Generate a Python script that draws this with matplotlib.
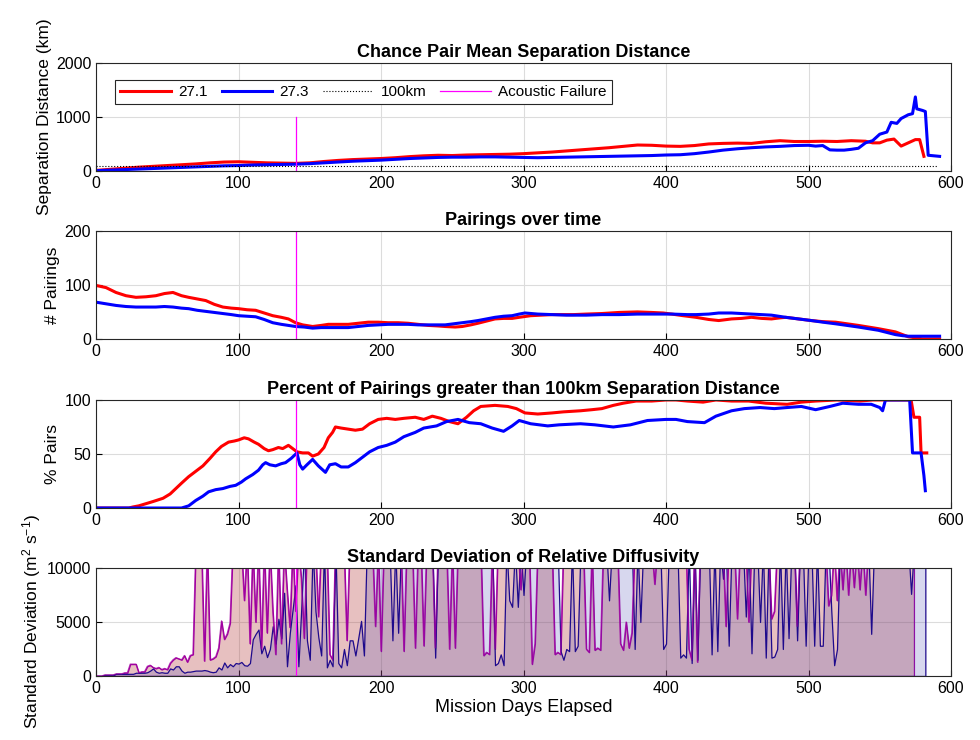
import numpy as np
import matplotlib
matplotlib.use("Agg")
import matplotlib.pyplot as plt

plt.rcParams['font.family'] = ['Liberation Sans', 'DejaVu Sans']
plt.rcParams['mathtext.default'] = 'regular'

# --- Chance pair mean separation distance (km) ---
sep_271_days = [0, 10, 20, 30, 40, 50, 60, 70, 80, 90, 100, 110, 120, 130, 140, 150, 160, 170, 180, 190,
                200, 210, 220, 230, 240, 250, 260, 270, 280, 290, 300, 310, 320, 330, 340, 350, 360, 370,
                380, 390, 400, 410, 420, 430, 440, 450, 460, 470, 480, 490, 500, 510, 520, 530, 540, 545,
                550, 555, 560, 565, 570, 575, 578, 581]
sep_271 = [10, 30, 50, 70, 85, 100, 115, 130, 150, 165, 170, 160, 150, 145, 140, 150, 175, 195, 210, 220,
           230, 245, 265, 280, 290, 285, 295, 300, 305, 310, 320, 335, 350, 370, 390, 410, 430, 455,
           480, 475, 460, 455, 470, 500, 510, 515, 510, 540, 560, 545, 545, 550, 545, 560, 550, 520,
           520, 570, 590, 460, 520, 580, 580, 270]

sep_273_days = [0, 10, 20, 30, 40, 50, 60, 70, 80, 90, 100, 110, 120, 130, 140, 150, 160, 170, 180, 190,
                200, 210, 220, 230, 240, 250, 260, 270, 280, 290, 300, 310, 320, 330, 340, 350, 360, 370,
                380, 390, 400, 410, 420, 430, 440, 450, 460, 470, 480, 490, 500, 505, 510, 515, 520, 525,
                530, 535, 540, 545, 550, 555, 558, 562, 565, 570, 573, 575, 576, 580, 582, 584, 588, 592]
sep_273 = [5, 15, 25, 35, 45, 55, 65, 75, 85, 95, 100, 110, 115, 120, 125, 135, 150, 165, 180, 190,
           200, 215, 230, 240, 250, 255, 255, 260, 260, 255, 250, 245, 250, 255, 260, 265, 270, 275,
           280, 285, 295, 300, 320, 350, 385, 410, 430, 445, 455, 470, 475, 460, 470, 390, 385, 385,
           400, 420, 520, 560, 680, 720, 900, 880, 970, 1040, 1060, 1370, 1150, 1120, 1100, 290, 280, 270]

# --- Pairings over time ---
pair_271_days = [0, 7, 14, 21, 28, 35, 42, 48, 54, 60, 65, 71, 77, 83, 89, 95, 100, 106, 112, 118, 124,
                 130, 135, 140, 145, 152, 158, 163, 170, 177, 184, 191, 198, 205, 212, 219, 226, 233,
                 240, 245, 252, 257, 263, 268, 274, 280, 286, 292, 297, 305, 320, 335, 344, 355, 367,
                 380, 390, 398, 404, 412, 421, 430, 437, 446, 453, 460, 467, 474, 480, 484, 493, 502,
                 510, 519, 527, 535, 542, 549, 555, 561, 566, 570, 575, 580, 586, 592]
pair_271 = [99, 95, 86, 80, 77, 78, 80, 84, 86, 80, 77, 74, 71, 64, 59, 57, 56, 54, 53, 48, 43,
            40, 37, 30, 26, 23, 25, 27, 27, 27, 29, 31, 31, 30, 30, 29, 27, 25,
            24, 23, 22, 23, 26, 29, 33, 37, 38, 38, 40, 43, 45, 45, 46, 47, 49,
            50, 49, 48, 46, 43, 40, 36, 34, 37, 38, 40, 38, 37, 39, 40, 37, 34,
            32, 31, 28, 25, 22, 19, 16, 13, 8, 4, 2, 0, 0, 0]

pair_273_days = [0, 7, 14, 21, 28, 35, 42, 48, 54, 60, 65, 71, 77, 83, 89, 95, 100, 106, 112, 118, 124,
                 130, 135, 140, 146, 152, 158, 163, 170, 177, 184, 191, 198, 205, 212, 219, 226, 233,
                 240, 245, 251, 257, 263, 268, 274, 280, 286, 292, 297, 301, 310, 320, 330, 344, 355,
                 367, 380, 390, 404, 415, 421, 430, 437, 446, 453, 460, 467, 474, 484, 493, 502, 510,
                 519, 527, 535, 542, 549, 555, 561, 566, 570, 580, 592]
pair_273 = [68, 65, 62, 60, 59, 59, 59, 60, 59, 57, 56, 53, 51, 49, 47, 45, 43, 42, 41, 36, 30,
            27, 25, 23, 22, 20, 21, 21, 21, 21, 23, 25, 26, 27, 27, 27, 26, 26,
            26, 26, 28, 30, 32, 34, 37, 40, 42, 43, 46, 48, 46, 45, 44, 44, 45,
            45, 46, 46, 46, 45, 45, 46, 48, 48, 47, 46, 45, 44, 40, 37, 34, 31,
            28, 25, 22, 19, 16, 12, 8, 6, 5, 5, 5]

# --- Percent of pairings > 100 km ---
pct_271_days = [0, 20, 23, 26, 30, 35, 40, 47, 52, 56, 60, 65, 70, 75, 80, 84, 88, 93, 97, 100, 104,
                107, 111, 114, 118, 121, 124, 128, 131, 135, 138, 141, 145, 149, 152, 156, 160, 163,
                166, 168, 172, 177, 182, 187, 192, 198, 204, 210, 216, 224, 230, 236, 242, 248, 254,
                260, 265, 270, 280, 289, 295, 301, 310, 320, 328, 340, 348, 355, 363, 370, 379, 390,
                400, 407, 415, 426, 435, 446, 458, 470, 485, 495, 505, 520, 536, 545, 560, 572, 574,
                578, 579, 583]
pct_271 = [0, 0, 0, 1, 2, 4, 6, 9, 13, 18, 23, 29, 34, 39, 46, 52, 57, 61, 62, 63, 65,
           64, 61, 59, 55, 53, 54, 56, 55, 58, 55, 52, 51, 51, 48, 50, 56, 65,
           70, 75, 74, 73, 72, 73, 78, 82, 83, 82, 83, 84, 82, 85, 83, 80, 78,
           84, 90, 94, 95, 94, 92, 88, 87, 88, 89, 90, 91, 92, 95, 97, 99, 99,
           100, 100, 99, 98, 100, 99, 99, 97, 96, 98, 99, 100, 99, 100, 100, 100, 84,
           84, 51, 51]

pct_273_days = [0, 42, 50, 60, 65, 70, 75, 79, 84, 89, 94, 98, 102, 105, 110, 114, 117, 119, 122, 126,
                130, 133, 137, 141, 143, 145, 148, 152, 156, 161, 164, 168, 172, 177, 182, 187, 192,
                198, 204, 210, 216, 224, 230, 239, 246, 254, 262, 270, 278, 286, 292, 297, 305, 317,
                325, 340, 350, 363, 375, 387, 400, 407, 415, 427, 435, 446, 455, 466, 476, 485, 495,
                505, 515, 524, 535, 544, 550, 552, 554, 571, 573, 579, 581, 582]
pct_273 = [0, 0, 0, 0, 2, 7, 11, 15, 17, 18, 20, 21, 24, 27, 31, 35, 40, 42, 40, 39,
           41, 42, 46, 51, 40, 36, 40, 45, 39, 33, 40, 41, 38, 38, 42, 47, 52,
           56, 58, 61, 66, 70, 74, 76, 80, 82, 79, 78, 74, 71, 76, 81, 78, 76,
           77, 78, 77, 75, 77, 81, 82, 82, 80, 79, 85, 90, 92, 93, 92, 93, 94,
           91, 94, 97, 96, 96, 93, 90, 100, 100, 51, 51, 30, 16]

# --- Std of relative diffusivity, thousands of m^2/s, every 2 days (12 = off the top) ---
sd_271_days = np.arange(0, 576, 2)
sd_271_k = [
    0, 0, 0, 0.1, 0.1, 0.1, 0.1, 0.2, 0.2, 0.2,
    0.3, 0.3, 1.1, 1.1, 1.1, 0.3, 0.4, 0.4, 0.9, 1.0,
    0.8, 0.7, 0.8, 0.6, 0.7, 0.6, 1.2, 1.5, 1.7, 1.6,
    1.5, 1.9, 1.3, 1.9, 2.0, 12, 12, 12, 1.4, 12,
    1.5, 1.6, 1.8, 2.6, 5.1, 3.4, 3.9, 4.9, 12, 12,
    12, 12, 7, 12, 3, 12, 5, 12, 2.5, 12,
    4, 12, 6, 2, 12, 3, 12, 8, 4.5, 12,
    6, 12, 9, 3.5, 12, 12, 12, 12, 5.5, 12,
    12, 12, 2, 1.5, 12, 12, 12, 12, 3.3, 12,
    12, 12, 12, 12, 12, 12, 12, 12, 4.6, 12,
    2.3, 12, 12, 12, 12, 12, 12, 12, 2.3, 12,
    12, 12, 2.6, 12, 12, 2.8, 12, 12, 12, 2.6,
    12, 12, 12, 12, 2.5, 12, 2.6, 12, 12, 12,
    12, 12, 12, 12, 12, 12, 1.9, 2.2, 2, 12,
    2.5, 12, 12, 12, 12, 12, 12, 12, 12, 8,
    12, 12, 12, 1.1, 3, 12, 12, 12, 12, 12,
    12, 2, 2.2, 2, 12, 12, 12, 12, 12, 12,
    12, 12, 2.5, 2.2, 12, 2.4, 2.6, 2.4, 12, 12,
    12, 12, 12, 12, 3, 2.4, 5, 2.6, 4, 12,
    12, 12, 12, 12, 12, 12, 8.5, 12, 12, 12,
    12, 12, 12, 12, 12, 12, 12, 12, 2.5, 1.5,
    12, 1.3, 12, 12, 12, 12, 12, 12, 12, 12,
    12, 4.6, 12, 12, 12, 5.3, 12, 12, 12, 5,
    12, 12, 12, 12, 12, 12, 12, 5.3, 6, 12,
    12, 12, 12, 12, 12, 12, 4.6, 12, 12, 12,
    12, 12, 12, 12, 12, 12, 12, 6.5, 7.5, 12,
    7, 12, 8, 12, 7.5, 12, 8.2, 12, 8, 12,
    7.5, 12, 12, 12, 12, 12, 12, 12, 12, 12,
    12, 12, 12, 12, 12, 12, 12, 12]

sd_273_days = np.arange(0, 584, 2)
sd_273_k = [
    0, 0, 0, 0.1, 0.1, 0.1, 0.1, 0.2, 0.2, 0.2,
    0.2, 0.2, 0.2, 0.2, 0.3, 0.3, 0.3, 0.3, 0.35, 0.5,
    0.7, 0.4, 0.3, 0.35, 0.3, 0.3, 0.7, 0.6, 0.9, 0.9,
    0.5, 0.3, 0.4, 0.4, 0.45, 0.5, 0.5, 0.5, 0.55, 0.5,
    0.4, 0.35, 0.4, 0.8, 0.6, 1.25, 0.8, 1.1, 0.9, 1.2,
    1.15, 1.3, 1.0, 0.95, 1.2, 3.4, 3.9, 4.3, 2.1, 2.8,
    1.75, 2.5, 4.6, 3.0, 5.3, 3.5, 7.7, 0.9, 4, 6.2,
    8.4, 0.9, 6.2, 12, 3.3, 1.5, 12, 6, 3.6, 1.9,
    12, 0.8, 1.5, 0.9, 12, 1.2, 0.8, 2.5, 1.0, 3.3,
    3.3, 1.9, 3.5, 5.1, 1.9, 12, 12, 12, 12, 12,
    12, 12, 12, 12, 3.3, 12, 4, 12, 12, 12,
    12, 12, 12, 12, 12, 12, 12, 12, 12, 1.7,
    12, 12, 12, 12, 12, 12, 12, 12, 12, 12,
    12, 12, 12, 12, 12, 12, 12, 12, 12, 12,
    1.0, 1.2, 2, 1.0, 12, 7, 6.4, 12, 6.4, 12,
    7.5, 12, 12, 12, 12, 12, 12, 12, 12, 12,
    12, 12, 12, 2.3, 1.5, 2.5, 2.3, 12, 2.3, 2.8,
    12, 12, 12, 12, 12, 12, 12, 12, 12, 12,
    7, 12, 12, 12, 12, 12, 12, 12, 12, 2.5,
    12, 5, 12, 12, 12, 12, 12, 12, 12, 2.5,
    3, 12, 12, 12, 12, 1.7, 2, 1.7, 12, 1.2,
    12, 1.5, 12, 12, 12, 12, 2.0, 12, 2.3, 12,
    9, 12, 2.8, 12, 12, 12, 12, 12, 5.5, 12,
    2.1, 12, 12, 5, 12, 1.7, 12, 1.7, 1.8, 2.5,
    12, 2.5, 12, 3.5, 12, 12, 3.3, 12, 12, 2.8,
    12, 12, 2.8, 12, 2.8, 2.8, 12, 12, 6, 1.0,
    2.5, 12, 12, 12, 12, 12, 12, 12, 12, 12,
    12, 12, 3.9, 12, 12, 12, 12, 12, 12, 12,
    12, 12, 12, 12, 12, 12, 7.6, 12, 12, 12,
    12, 12]

failure_day = 140
threshold_km = 100

RED = '#ff0000'
BLUE = '#0000ff'
MAG = '#ff00ff'
EDGE_271 = '#a000a0'
EDGE_273 = '#1e0a8c'

fig = plt.figure(figsize=(9.8, 7.4), dpi=100)
left, width, h = 0.098, 0.8724, 0.146
bottoms = [0.769, 0.542, 0.3135, 0.0865]
axs = [fig.add_axes([left, b, width, h]) for b in bottoms]


def style(ax, yticks, title, ylabel):
    ax.set_xlim(0, 600)
    ax.set_xticks(range(0, 601, 100))
    ax.set_ylim(yticks[0], yticks[-1])
    ax.set_yticks(yticks)
    ax.grid(True, color='#dcdcdc', lw=0.8)
    ax.set_axisbelow(True)
    ax.tick_params(direction='in', labelsize=11.5, length=4, top=False, right=False)
    for s in ax.spines.values():
        s.set_color('#262626')
    ax.set_title(title, fontsize=13, fontweight='bold', pad=4)
    ax.set_ylabel(ylabel, fontsize=12.5, labelpad=3)


# panel 1
ax = axs[0]
l1, = ax.plot(sep_271_days, sep_271, color=RED, lw=2.2, label='27.1')
l2, = ax.plot(sep_273_days, sep_273, color=BLUE, lw=2.2, label='27.3')
l3, = ax.plot([0, 590], [threshold_km, threshold_km], color='k', ls=':', lw=0.8, label='100km')
l4, = ax.plot([failure_day, failure_day], [0, 1000], color=MAG, lw=0.9, label='Acoustic Failure')
style(ax, [0, 1000, 2000], 'Chance Pair Mean Separation Distance', 'Separation Distance (km)')
leg = ax.legend(handles=[l1, l2, l3, l4], ncol=4, loc='upper left', bbox_to_anchor=(0.022, 0.845),
                borderaxespad=0, fontsize=11, handlelength=3.3, columnspacing=0.9,
                handletextpad=0.5, fancybox=False, framealpha=1, borderpad=0.35)
leg.get_frame().set_edgecolor('#262626')
leg.get_frame().set_linewidth(0.8)

# panel 2
ax = axs[1]
ax.plot(pair_271_days, pair_271, color=RED, lw=2.2)
ax.plot(pair_273_days, pair_273, color=BLUE, lw=2.2)
ax.plot([failure_day, failure_day], [0, 200], color=MAG, lw=0.9)
style(ax, [0, 100, 200], 'Pairings over time', '# Pairings')

# panel 3
ax = axs[2]
ax.plot(pct_271_days, pct_271, color=RED, lw=2.2)
ax.plot(pct_273_days, pct_273, color=BLUE, lw=2.2)
ax.plot([failure_day, failure_day], [0, 100], color=MAG, lw=0.9)
style(ax, [0, 50, 100], 'Percent of Pairings greater than 100km Separation Distance', '% Pairs')

# panel 4
ax = axs[3]
sd_271 = np.array(sd_271_k) * 1000
sd_273 = np.array(sd_273_k) * 1000
ax.fill_between(sd_271_days, 0, sd_271, facecolor=(0.69, 0.19, 0.19, 0.3),
                edgecolor=EDGE_271, lw=0.9)
ax.fill_between(sd_273_days, 0, sd_273, facecolor=(0.3, 0.3, 0.7, 0.22),
                edgecolor=EDGE_273, lw=0.9)
ax.plot(sd_271_days, sd_271, color=EDGE_271, lw=0.9, alpha=0.75)
ax.plot([failure_day, failure_day], [0, 10000], color=MAG, lw=0.9)
style(ax, [0, 5000, 10000], 'Standard Deviation of Relative Diffusivity',
      'Standard Deviation (m$^2$ s$^{-1}$)')
ax.set_xlabel('Mission Days Elapsed', fontsize=13, labelpad=2)

fig.savefig('out.png', dpi=100)
